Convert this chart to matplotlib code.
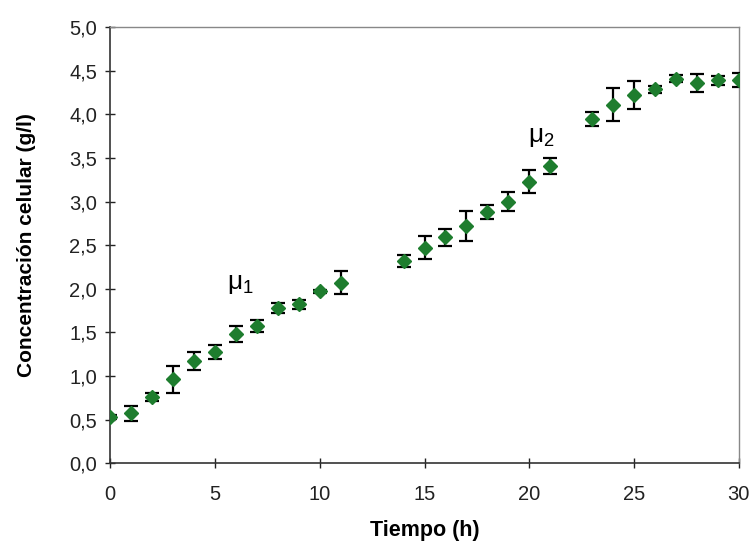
import matplotlib
matplotlib.use("Agg")
import matplotlib.pyplot as plt
from matplotlib.ticker import FuncFormatter, MultipleLocator

plt.rcParams['font.family'] = ['Liberation Sans', 'DejaVu Sans']
plt.rcParams['mathtext.fontset'] = 'custom'
plt.rcParams['mathtext.rm'] = 'Liberation Sans'

tiempo = [0, 1, 2, 3, 4, 5, 6, 7, 8, 9, 10, 11,
          14, 15, 16, 17, 18, 19, 20, 21,
          23, 24, 25, 26, 27, 28, 29, 30]
concentracion = [0.53, 0.57, 0.76, 0.96, 1.17, 1.28, 1.48, 1.57, 1.78, 1.82, 1.97, 2.07,
                 2.32, 2.47, 2.59, 2.72, 2.88, 3.00, 3.23, 3.41,
                 3.95, 4.11, 4.22, 4.29, 4.41, 4.36, 4.39, 4.39]
error = [0.02, 0.09, 0.05, 0.16, 0.10, 0.08, 0.09, 0.07, 0.06, 0.05, 0.02, 0.13,
         0.07, 0.13, 0.10, 0.17, 0.08, 0.11, 0.13, 0.09,
         0.08, 0.19, 0.16, 0.04, 0.04, 0.10, 0.05, 0.08]

fig = plt.figure(figsize=(7.5, 5.43), dpi=100)
ax = fig.add_axes([0.147, 0.147, 0.838, 0.803])

ax.errorbar(tiempo, concentracion, yerr=error, fmt='D', color='#1e7d2e',
            markersize=7.5, ecolor='black', elinewidth=1.6, capsize=5, capthick=1.6,
            zorder=3)

ax.set_xlim(0, 30)
ax.set_ylim(0, 5.0)
ax.xaxis.set_major_locator(MultipleLocator(5))
ax.yaxis.set_major_locator(MultipleLocator(0.5))
ax.yaxis.set_major_formatter(FuncFormatter(lambda v, p: f"{v:.1f}".replace('.', ',')))
ax.xaxis.set_major_formatter(FuncFormatter(lambda v, p: f"{v:.0f}"))

ax.tick_params(axis='both', direction='inout', length=7, width=1, labelsize=14.5, colors='#222222')
ax.tick_params(axis='y', pad=6)
ax.tick_params(axis='x', pad=12)
for s in ['left', 'bottom']:
    ax.spines[s].set_color('#333333')
    ax.spines[s].set_linewidth(1.2)
for s in ['top', 'right']:
    ax.spines[s].set_color('#888888')
    ax.spines[s].set_linewidth(1.0)

ax.set_xlabel('Tiempo (h)', fontsize=15.5, fontweight='bold', labelpad=12)
ax.set_ylabel('Concentración celular (g/l)', fontsize=15, fontweight='bold', labelpad=24)

ax.text(6.2, 2.06, r'$\mathregular{\mu_1}$', fontsize=19, ha='center', va='center')
ax.text(20.6, 3.74, r'$\mathregular{\mu_2}$', fontsize=19, ha='center', va='center')

fig.savefig('out.png', dpi=100)
